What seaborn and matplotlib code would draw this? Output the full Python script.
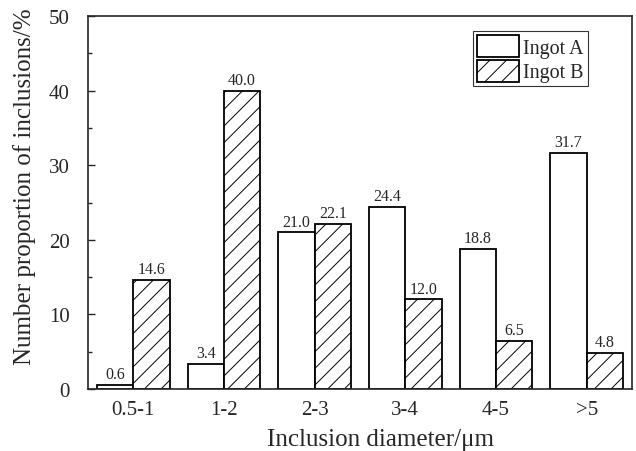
import matplotlib
matplotlib.use("Agg")
import matplotlib.pyplot as plt
import seaborn as sns
import pandas as pd
from matplotlib.ticker import MultipleLocator

categories = ["0.5-1", "1-2", "2-3", "3-4", "4-5", ">5"]
ingot_a = [0.6, 3.4, 21.0, 24.4, 18.8, 31.7]
ingot_b = [14.6, 40.0, 22.1, 12.0, 6.5, 4.8]
series = ["Ingot A", "Ingot B"]

df = pd.DataFrame({
    "diameter": categories * 2,
    "value": ingot_a + ingot_b,
    "ingot": [series[0]] * len(categories) + [series[1]] * len(categories),
})

sns.set_style("ticks")
plt.rcParams["font.family"] = ["Liberation Serif", "DejaVu Serif"]
plt.rcParams["hatch.color"] = "#555555"
plt.rcParams["hatch.linewidth"] = 0.7

fig = plt.figure(figsize=(6.36, 4.52), dpi=100)
ax = fig.add_axes([88 / 636, 1 - 390 / 452, 544 / 636, 373 / 452])

sns.barplot(data=df, x="diameter", y="value", hue="ingot", order=categories,
            hue_order=series, palette=["white", "white"], edgecolor="black",
            linewidth=1.3, width=0.8, saturation=1, ax=ax)

for patch in ax.containers[1]:
    patch.set_hatch("//")

for cont in ax.containers:
    ax.bar_label(cont, fmt="%.1f", padding=2, fontsize=11.5)

ax.set_ylim(0, 50)
ax.set_xlim(-0.5, 5.5)
ax.yaxis.set_major_locator(MultipleLocator(10))
ax.yaxis.set_minor_locator(MultipleLocator(5))
ax.tick_params(axis="y", which="major", direction="in", length=5, labelsize=15,
               width=1, pad=13)
ax.tick_params(axis="y", which="minor", direction="in", length=3, width=1)
ax.tick_params(axis="x", length=0, labelsize=15, pad=8)
for s in ax.spines.values():
    s.set_linewidth(1.2)
    s.set_visible(True)

ax.set_xlabel("Inclusion diameter/μm", fontsize=18)
ax.set_ylabel("Number proportion of inclusions/%", fontsize=18)
ax.xaxis.set_label_coords(0.537, -0.105)
ax.yaxis.set_label_coords(-0.095, 0.545)

handles, labels = ax.get_legend_handles_labels()
leg = ax.legend(handles, labels, loc="upper right", bbox_to_anchor=(0.919, 0.96),
                fontsize=14.5, frameon=True, fancybox=False, edgecolor="black",
                handlelength=2.1, handleheight=1.3, borderpad=0.2,
                labelspacing=0.1, handletextpad=0.2, borderaxespad=0)
leg.get_frame().set_linewidth(0.8)
for h in leg.get_patches():
    h.set_edgecolor("black")
leg.get_patches()[1].set_hatch("//")

fig.savefig("out.png", dpi=100)
